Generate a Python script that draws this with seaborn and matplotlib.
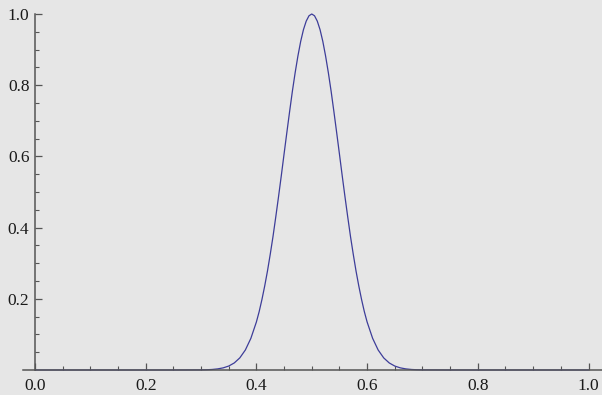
import matplotlib
matplotlib.use("Agg")
import matplotlib.pyplot as plt
from matplotlib.ticker import MultipleLocator, FixedLocator
import seaborn as sns
import pandas as pd

# Values
x_left = [0.00, 0.25, 0.30, 0.31, 0.32, 0.33, 0.34, 0.35, 0.36, 0.37, 0.38, 0.39]
y_left = [0.0, 0.0, 0.0003, 0.0007, 0.0015, 0.0031, 0.0060, 0.0111, 0.0198, 0.0340, 0.0561, 0.0889]
x_mid = [0.400, 0.405, 0.410, 0.415, 0.420, 0.425, 0.430, 0.435, 0.440, 0.445,
         0.450, 0.455, 0.460, 0.465, 0.470, 0.475, 0.480, 0.485, 0.490, 0.495,
         0.500, 0.505, 0.510, 0.515, 0.520, 0.525, 0.530, 0.535, 0.540, 0.545,
         0.550, 0.555, 0.560, 0.565, 0.570, 0.575, 0.580, 0.585, 0.590, 0.595, 0.600]
y_mid = [0.135, 0.164, 0.198, 0.236, 0.278, 0.325, 0.375, 0.430, 0.487, 0.546,
         0.607, 0.667, 0.726, 0.783, 0.835, 0.882, 0.923, 0.956, 0.980, 0.995,
         1.000, 0.995, 0.980, 0.956, 0.923, 0.882, 0.835, 0.783, 0.726, 0.667,
         0.607, 0.546, 0.487, 0.430, 0.375, 0.325, 0.278, 0.236, 0.198, 0.164, 0.135]
x_right = [0.61, 0.62, 0.63, 0.64, 0.65, 0.66, 0.67, 0.68, 0.69, 0.70, 0.75, 1.00]
y_right = [0.0889, 0.0561, 0.0340, 0.0198, 0.0111, 0.0060, 0.0031, 0.0015, 0.0007, 0.0003, 0.0, 0.0]
x_major = [0.0, 0.2, 0.4, 0.6, 0.8, 1.0]
x_labels = ["0.0", "0.2", "0.4", "0.6", "0.8", "1.0"]
y_major = [0.2, 0.4, 0.6, 0.8, 1.0]
y_labels = ["0.2", "0.4", "0.6", "0.8", "1.0"]

bg = "#e6e6e6"
axis_col = "#555555"
line_col = "#3d3d99"

sns.set_theme(style="ticks", rc={"figure.facecolor": bg, "axes.facecolor": bg,
                                 "savefig.facecolor": bg})
plt.rcParams["font.family"] = "Liberation Serif"

W, H = 602, 395
fig = plt.figure(figsize=(W / 100, H / 100), dpi=100)
# pixel geometry: x=0 -> px 35, x=1 -> px 588.5 ; y=0 -> py 370, y=1 -> py 14
left_px, right_px = 23, 602
bottom_py, top_py = 370, 10
ax = fig.add_axes([left_px / W, 1 - bottom_py / H,
                   (right_px - left_px) / W, (bottom_py - top_py) / H])
xs = 553.5
ax.set_xlim((left_px - 35) / xs, (right_px - 35) / xs)
ys = 356.0
ax.set_ylim(0, (bottom_py - top_py) / ys)

df = pd.DataFrame({"x": x_left + x_mid + x_right, "y": y_left + y_mid + y_right})
sns.lineplot(data=df, x="x", y="y", ax=ax, color=line_col, linewidth=0.9,
             estimator=None, sort=True, clip_on=False)

for s in ["top", "right"]:
    ax.spines[s].set_visible(False)
ax.spines["left"].set_position(("data", 0))
ax.spines["left"].set_bounds(0, 1.0)
ax.spines["bottom"].set_position(("data", 0))
for s in ["left", "bottom"]:
    ax.spines[s].set_color(axis_col)
    ax.spines[s].set_linewidth(1.1)

ax.xaxis.set_major_locator(FixedLocator(x_major))
ax.set_xticklabels(x_labels, family="Liberation Serif")
ax.xaxis.set_minor_locator(MultipleLocator(0.05))
ax.yaxis.set_major_locator(FixedLocator(y_major))
ax.set_yticklabels(y_labels, family="Liberation Serif")
ax.yaxis.set_minor_locator(FixedLocator([0.05 * i for i in range(1, 20) if i % 4 != 0]))

ax.tick_params(which="major", direction="in", length=5, width=0.9, color=axis_col,
               labelsize=12.5, labelcolor="#1a1a1a")
ax.tick_params(axis="x", which="major", pad=6)
ax.tick_params(axis="y", which="major", pad=4)
ax.tick_params(which="minor", direction="in", length=3.2, width=0.8, color=axis_col)
ax.set_xlabel("")
ax.set_ylabel("")

fig.savefig("out.png", dpi=100, facecolor=bg)
